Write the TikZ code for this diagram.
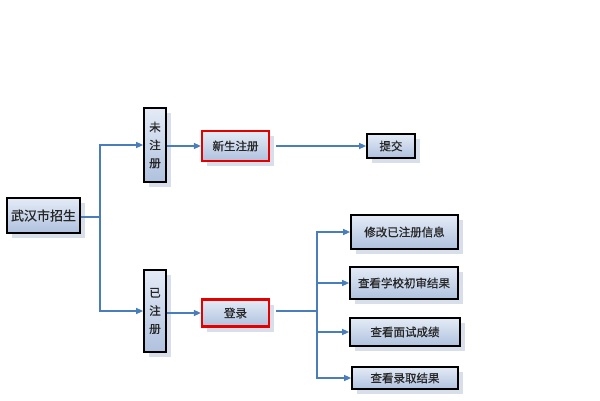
\documentclass[tikz,border=0pt]{standalone}
\usepackage{fontspec}
\newfontfamily\cjk[FakeBold=0.6]{Noto Sans CJK SC}
\usetikzlibrary{arrows.meta,shadows}
\definecolor{lnblue}{HTML}{4A7EBB}
\definecolor{boxtop}{HTML}{E4EBF6}
\definecolor{boxbot}{HTML}{AFC1DE}
\definecolor{shad}{HTML}{D8DFEB}
\begin{document}
\begin{tikzpicture}[x=1pt,y=-1pt,
  box/.style={draw=black, line width=1.7pt, top color=boxtop, bottom color=boxbot,
    font=\cjk\fontsize{11.5}{18}\selectfont, text=black!85, inner sep=0pt, align=center,
    drop shadow={shadow xshift=5pt, shadow yshift=-5pt, fill=shad, opacity=1}},
  redbox/.style={box, draw=red!90!black, line width=2.2pt},
  conn/.style={draw=lnblue, line width=1.3pt},
  arr/.style={conn, -{Triangle[length=7pt,width=6pt]}}]
\useasboundingbox (0,0) rectangle (600,400);
% nodes
\node[box, minimum width=73pt, minimum height=35pt, font=\cjk\fontsize{13}{16}\selectfont] (root) at (43.5,215.5) {武汉市招生};
\node[box, minimum width=22pt, minimum height=74pt] (wz) at (155,145) {未\\注\\册};
\node[box, minimum width=22pt, minimum height=82pt] (yz) at (155,311) {已\\注\\册};
\node[redbox, minimum width=67pt, minimum height=30pt] (xs) at (235.5,146) {新生注册};
\node[redbox, minimum width=67pt, minimum height=27pt] (dl) at (235.5,313) {登录};
\node[box, minimum width=48pt, minimum height=24pt] (tj) at (391,146) {提交};
\node[box, minimum width=107pt, minimum height=34pt] (r1) at (404.5,232) {修改已注册信息};
\node[box, minimum width=108pt, minimum height=32pt] (r2) at (404,283) {查看学校初审结果};
\node[box, minimum width=110pt, minimum height=28pt] (r3) at (405,332) {查看面试成绩};
\node[box, minimum width=106pt, minimum height=22pt] (r4) at (405,378) {查看录取结果};
% bus points
\coordinate (b1) at (100,217);
\coordinate (b2) at (317,311);
% connectors
\draw[conn] (root.east |- b1) -- (b1);
\draw[arr] (b1) |- (wz.west);
\draw[arr] (b1) |- (yz.west);
\draw[arr] (wz.east |- xs.west) -- (xs.west);
\draw[arr] ([xshift=6pt]xs.east) -- (tj.west);
\draw[arr] (yz.east |- dl.west) -- (dl.west);
\draw[conn] ([xshift=6pt]dl.east |- b2) -- (b2);
\draw[arr] (b2) |- (r1.west);
\draw[arr] (b2) |- (r2.west);
\draw[arr] (b2) |- (r3.west);
\draw[arr] (b2) |- (r4.west);
\end{tikzpicture}
\end{document}
